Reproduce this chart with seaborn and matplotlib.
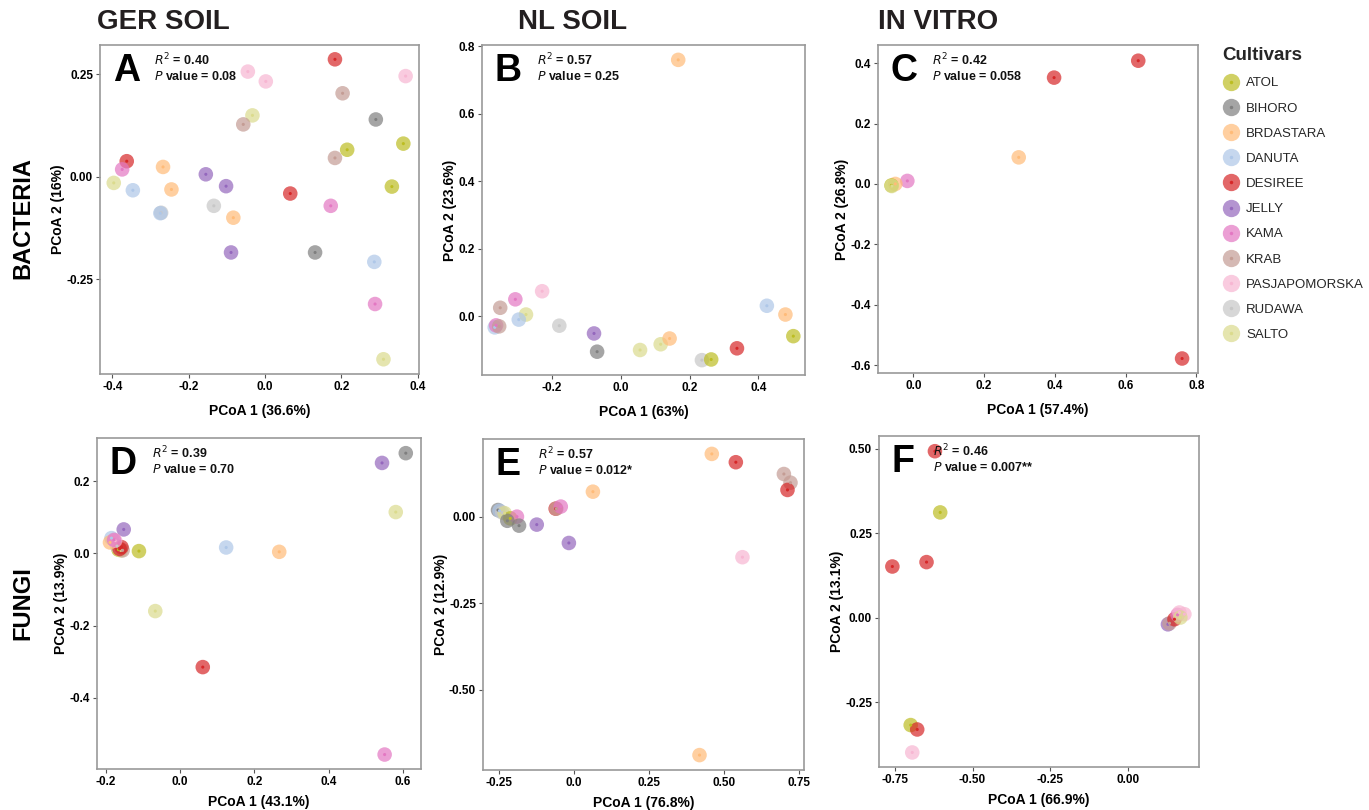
import matplotlib
matplotlib.use("Agg")
import matplotlib.pyplot as plt
import seaborn as sns
import pandas as pd
from matplotlib.lines import Line2D
from matplotlib.legend_handler import HandlerTuple

sns.set_theme(style="white")
plt.rcParams['font.family'] = ['Liberation Sans', 'DejaVu Sans']

cultivars = ["ATOL", "BIHORO", "BRDASTARA", "DANUTA", "DESIREE", "JELLY",
             "KAMA", "KRAB", "PASJAPOMORSKA", "RUDAWA", "SALTO"]
colors = ["#bcbd22", "#7f7f7f", "#ffbb78", "#aec7e8", "#d62728", "#9467bd",
          "#e377c2", "#c49c94", "#f7b6d2", "#c7c7c7", "#dbdb8d"]

col_titles = ["GER SOIL", "NL SOIL", "IN VITRO"]
row_titles = ["BACTERIA", "FUNGI"]
panel_letters = ["A", "B", "C", "D", "E", "F"]
r2_values = ["0.40", "0.57", "0.42", "0.39", "0.57", "0.46"]
p_values = ["0.08", "0.25", "0.058", "0.70", "0.012*", "0.007**"]
x_labels = ["PCoA 1 (36.6%)", "PCoA 1 (63%)", "PCoA 1 (57.4%)",
            "PCoA 1 (43.1%)", "PCoA 1 (76.8%)", "PCoA 1 (66.9%)"]
y_labels = ["PCoA 2 (16%)", "PCoA 2 (23.6%)", "PCoA 2 (26.8%)",
            "PCoA 2 (13.9%)", "PCoA 2 (12.9%)", "PCoA 2 (13.1%)"]

# Panel A
a_cult = ["DESIREE", "PASJAPOMORSKA", "PASJAPOMORSKA", "PASJAPOMORSKA", "KRAB", "SALTO", "KRAB",
          "BIHORO", "ATOL", "ATOL", "KRAB", "DESIREE", "KAMA", "BRDASTARA", "SALTO", "DANUTA",
          "BRDASTARA", "JELLY", "JELLY", "RUDAWA", "RUDAWA", "DANUTA", "DESIREE", "KAMA", "ATOL",
          "BRDASTARA", "JELLY", "BIHORO", "DANUTA", "KAMA", "SALTO"]
a_x = [0.183, -0.045, 0.002, 0.368, 0.203, -0.033, -0.057, 0.290, 0.362, 0.215, 0.183, -0.362,
       -0.374, -0.267, -0.396, -0.346, -0.245, -0.155, -0.102, -0.134, -0.272, -0.274, 0.066,
       0.172, 0.332, -0.083, -0.089, 0.131, 0.286, 0.288, 0.310]
a_y = [0.287, 0.257, 0.233, 0.246, 0.204, 0.150, 0.128, 0.140, 0.081, 0.066, 0.046, 0.038,
       0.018, 0.024, -0.015, -0.033, -0.031, 0.006, -0.023, -0.071, -0.088, -0.089, -0.041,
       -0.071, -0.024, -0.100, -0.185, -0.185, -0.208, -0.311, -0.446]

# Panel B
b_cult = ["BRDASTARA", "PASJAPOMORSKA", "KAMA", "KRAB", "SALTO", "DANUTA", "DANUTA", "KAMA",
          "KRAB", "RUDAWA", "JELLY", "BIHORO", "SALTO", "SALTO", "BRDASTARA", "RUDAWA", "ATOL",
          "DESIREE", "DANUTA", "BRDASTARA", "ATOL"]
b_x = [0.167, -0.229, -0.307, -0.351, -0.276, -0.297, -0.367, -0.363, -0.354, -0.179, -0.078,
       -0.069, 0.056, 0.116, 0.142, 0.236, 0.263, 0.338, 0.425, 0.479, 0.502]
b_y = [0.759, 0.074, 0.050, 0.025, 0.005, -0.010, -0.033, -0.027, -0.030, -0.028, -0.051,
       -0.105, -0.100, -0.083, -0.066, -0.130, -0.128, -0.095, 0.031, 0.005, -0.059]

# Panel C
c_cult = ["DESIREE", "DESIREE", "BRDASTARA", "KAMA", "BRDASTARA", "ATOL", "SALTO", "DESIREE"]
c_x = [0.636, 0.398, 0.298, -0.017, -0.051, -0.062, -0.061, 0.760]
c_y = [0.408, 0.352, 0.088, 0.010, 0.000, -0.005, -0.007, -0.578]

# Panel D
d_cult = ["BIHORO", "JELLY", "SALTO", "JELLY", "ATOL", "SALTO", "KRAB", "RUDAWA", "DESIREE",
          "DESIREE", "DANUTA", "BRDASTARA", "PASJAPOMORSKA", "KAMA", "ATOL", "DANUTA",
          "BRDASTARA", "SALTO", "DESIREE", "KAMA"]
d_x = [0.608, 0.544, 0.581, -0.152, -0.166, -0.160, -0.155, -0.170, -0.163, -0.158, -0.185,
       -0.189, -0.175, -0.178, -0.111, 0.124, 0.267, -0.067, 0.061, 0.551]
d_y = [0.277, 0.250, 0.114, 0.066, 0.010, 0.008, 0.008, 0.020, 0.012, 0.017, 0.042, 0.030,
       0.035, 0.037, 0.006, 0.016, 0.004, -0.160, -0.315, -0.557]

# Panel E
e_cult = ["BRDASTARA", "DESIREE", "KRAB", "KRAB", "DESIREE", "BRDASTARA", "DESIREE", "KRAB",
          "KAMA", "BIHORO", "DANUTA", "RUDAWA", "SALTO", "ATOL", "KAMA", "BIHORO", "BIHORO",
          "JELLY", "JELLY", "PASJAPOMORSKA", "BRDASTARA"]
e_x = [0.460, 0.540, 0.700, 0.722, 0.712, 0.064, -0.060, -0.058, -0.043, -0.252, -0.247, -0.238,
       -0.230, -0.211, -0.189, -0.221, -0.182, -0.123, -0.016, 0.562, 0.419]
e_y = [0.181, 0.157, 0.123, 0.098, 0.077, 0.072, 0.023, 0.023, 0.029, 0.019, 0.017, 0.012,
       0.010, -0.005, 0.000, -0.012, -0.026, -0.023, -0.076, -0.117, -0.688]

# Panel F
f_cult = ["DESIREE", "ATOL", "DESIREE", "DESIREE", "ATOL", "DESIREE", "PASJAPOMORSKA", "JELLY",
          "KRAB", "DESIREE", "KAMA", "PASJAPOMORSKA", "PASJAPOMORSKA", "SALTO"]
f_x = [-0.621, -0.604, -0.758, -0.648, -0.699, -0.678, -0.694, 0.129, 0.134, 0.150, 0.160,
       0.166, 0.182, 0.169]
f_y = [0.492, 0.311, 0.151, 0.164, -0.318, -0.331, -0.399, -0.020, -0.017, -0.005, 0.008,
       0.015, 0.010, 0.000]

# axis ticks and labels
a_xt = [-0.4, -0.2, 0.0, 0.2, 0.4]; a_xtl = ["-0.4", "-0.2", "0.0", "0.2", "0.4"]
a_yt = [-0.25, 0.0, 0.25]; a_ytl = ["-0.25", "0.00", "0.25"]
b_xt = [-0.2, 0.0, 0.2, 0.4]; b_xtl = ["-0.2", "0.0", "0.2", "0.4"]
b_yt = [0.0, 0.2, 0.4, 0.6, 0.8]; b_ytl = ["0.0", "0.2", "0.4", "0.6", "0.8"]
c_xt = [0.0, 0.2, 0.4, 0.6, 0.8]; c_xtl = ["0.0", "0.2", "0.4", "0.6", "0.8"]
c_yt = [-0.6, -0.4, -0.2, 0.0, 0.2, 0.4]; c_ytl = ["-0.6", "-0.4", "-0.2", "0.0", "0.2", "0.4"]
d_xt = [-0.2, 0.0, 0.2, 0.4, 0.6]; d_xtl = ["-0.2", "0.0", "0.2", "0.4", "0.6"]
d_yt = [-0.4, -0.2, 0.0, 0.2]; d_ytl = ["-0.4", "-0.2", "0.0", "0.2"]
e_xt = [-0.25, 0.0, 0.25, 0.5, 0.75]; e_xtl = ["-0.25", "0.0", "0.25", "0.50", "0.75"]
e_yt = [-0.5, -0.25, 0.0]; e_ytl = ["-0.50", "-0.25", "0.00"]
f_xt = [-0.75, -0.5, -0.25, 0.0]; f_xtl = ["-0.75", "-0.50", "-0.25", "0.00"]
f_yt = [-0.25, 0.0, 0.25, 0.5]; f_ytl = ["-0.25", "0.00", "0.25", "0.50"]

panels = [
    (a_cult, a_x, a_y, a_xt, a_xtl, a_yt, a_ytl, (-0.432, 0.403), (-0.482, 0.322)),
    (b_cult, b_x, b_y, b_xt, b_xtl, b_yt, b_ytl, (-0.404, 0.536), (-0.174, 0.803)),
    (c_cult, c_x, c_y, c_xt, c_xtl, c_yt, c_ytl, (-0.100, 0.805), (-0.626, 0.460)),
    (d_cult, d_x, d_y, d_xt, d_xtl, d_yt, d_ytl, (-0.224, 0.649), (-0.597, 0.319)),
    (e_cult, e_x, e_y, e_xt, e_xtl, e_yt, e_ytl, (-0.302, 0.767), (-0.731, 0.224)),
    (f_cult, f_x, f_y, f_xt, f_xtl, f_yt, f_ytl, (-0.801, 0.229), (-0.442, 0.537)),
]

W, H = 1369, 810
# axes boxes in pixels: left, top, right, bottom
boxes = [(100, 45, 419, 374), (482, 45, 805, 375), (878, 45, 1198, 373),
         (97, 438, 421, 769), (483, 439, 804, 770), (879, 436, 1199, 767)]
xlabel_pads = [8, 8, 8, 5, 5, 5]

palette = dict(zip(cultivars, colors))
fig = plt.figure(figsize=(W / 100, H / 100), dpi=100)

for i, (cult, xs, ys, xt, xtl, yt, ytl, xlim, ylim) in enumerate(panels):
    l, t, r, b = boxes[i]
    ax = fig.add_axes([l / W, 1 - b / H, (r - l) / W, (b - t) / H])
    df = pd.DataFrame({"x": xs, "y": ys, "Cultivar": cult})
    sns.scatterplot(data=df, x="x", y="y", hue="Cultivar", palette=palette,
                    s=110, alpha=0.7, linewidth=0, legend=False, ax=ax, zorder=2)
    sns.scatterplot(data=df, x="x", y="y", hue="Cultivar", palette=palette,
                    s=5, alpha=1.0, linewidth=0, legend=False, ax=ax, zorder=3)
    ax.set_xlim(*xlim)
    ax.set_ylim(*ylim)
    ax.set_xticks(xt)
    ax.set_xticklabels(xtl)
    ax.set_yticks(yt)
    ax.set_yticklabels(ytl)
    ax.tick_params(axis="both", which="both", length=3, width=0.8, color="#555555",
                   labelsize=8.5, pad=2, bottom=True, left=True)
    for lab in ax.get_xticklabels() + ax.get_yticklabels():
        lab.set_fontweight("bold")
        lab.set_color("black")
    ax.set_xlabel(x_labels[i], fontsize=10, fontweight="bold", color="black",
                  labelpad=xlabel_pads[i])
    ax.set_ylabel(y_labels[i], fontsize=10, fontweight="bold", color="black", labelpad=1)
    for sp in ax.spines.values():
        sp.set_color("#999999")
        sp.set_linewidth(1.2)
    ax.text(0.04, 0.975, panel_letters[i], transform=ax.transAxes, fontsize=27,
            fontweight="bold", color="black", va="top", ha="left")
    ax.text(0.17, 0.955, r"$\bf{\it{R}^2}$" + " = " + r2_values[i], transform=ax.transAxes,
            fontsize=9, fontweight="bold", va="center", ha="left", color="#111111")
    ax.text(0.17, 0.905, r"$\bf{\it{P}}$" + " value = " + p_values[i], transform=ax.transAxes,
            fontsize=9, fontweight="bold", va="center", ha="left", color="#111111")

# column titles
col_x = [97, 518, 878]
for cx, ct in zip(col_x, col_titles):
    fig.text(cx / W, 1 - 22 / H, ct, fontsize=20, fontweight="bold", color="#231f20",
             ha="left", va="center")

# row titles
row_y = [218, 603]
for ry, rt in zip(row_y, row_titles):
    fig.text(23 / W, 1 - ry / H, rt, fontsize=17, fontweight="bold", color="black",
             rotation=90, ha="center", va="center")

# legend
handles = []
for c in cultivars:
    big = Line2D([], [], marker="o", linestyle="", markersize=12.5, markerfacecolor=palette[c],
                 markeredgewidth=0, alpha=0.7)
    small = Line2D([], [], marker="o", linestyle="", markersize=2.5, markerfacecolor=palette[c],
                   markeredgewidth=0)
    handles.append((big, small))
leg = fig.legend(handles, cultivars, handler_map={tuple: HandlerTuple(ndivide=1, pad=0)},
                 loc="upper left", bbox_to_anchor=(1217 / W, 1 - 42 / H), frameon=False,
                 title="Cultivars", fontsize=9.5, labelspacing=0.98, handletextpad=0.5,
                 handlelength=1.3, borderaxespad=0)
leg.get_title().set_fontweight("bold")
leg.get_title().set_fontsize(13.5)
leg._legend_box.align = "left"

fig.savefig("out.png", dpi=100)
